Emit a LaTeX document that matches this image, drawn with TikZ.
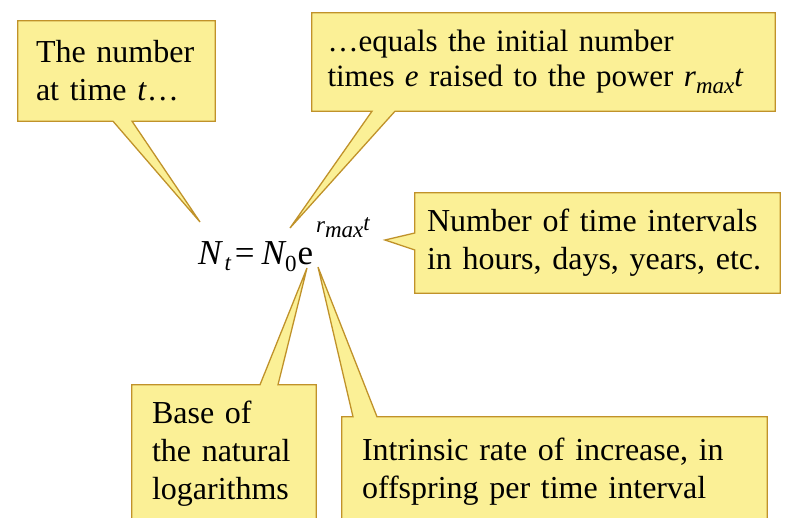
\documentclass[tikz,border=0pt]{standalone}
\usepackage{fontspec}
\setmainfont{Liberation Serif}
\usetikzlibrary{calc,backgrounds}

\definecolor{notefill}{RGB}{251,240,150}
\definecolor{noteedge}{RGB}{192,146,42}

\newcommand{\shifted}[2]{\raisebox{#1}{\fontsize{23}{23}\selectfont #2}}

\begin{document}
\begin{tikzpicture}[x=1pt, y=1pt,
    note/.style={rectangle, inner ysep=0pt, align=left, font=\fontsize{32}{38}\selectfont},
    formula/.style={anchor=base west, inner sep=0pt, font=\fontsize{35}{38}\selectfont},
    bubble/.style={draw=noteedge, fill=notefill, line width=1.3pt}
]
    \useasboundingbox (0,0) rectangle (786,518);

    % the equation and the points the callouts aim at
    \node[formula] (eqn) at (198,253) {{\itshape N}\kern3pt\shifted{-6pt}{\itshape t}\kern4pt=\kern7pt{\itshape N}\shifted{-7pt}{0}\kern1pt e\kern3pt\shifted{32pt}{\itshape r}\shifted{27pt}{\itshape max}\shifted{34pt}{\itshape t}};
    \coordinate (tipnow) at (200,296);
    \coordinate (tippower) at (290,290);
    \coordinate (tipunits) at (385,278);
    \coordinate (tipbase) at (307,250);
    \coordinate (tiprate) at (318,251);

    % callout texts
    \node[note, minimum height=100pt, text width=161pt, inner xsep=18pt] (now) at (116.5,447) {The number\\at time \textit{t}\ldots};
    \node[note, minimum height=98pt, text width=432pt, inner xsep=15.5pt, font=\fontsize{31}{35}\selectfont] (power) at (543.5,456) {\ldots equals the initial number\\times \textit{e} raised to the power \textit{r}\shifted{-7pt}{\itshape max}\textit{t}};
    \node[note, minimum height=100pt, text width=341pt, inner xsep=12pt] (units) at (597.5,275) {Number of time intervals\\in hours, days, years, etc.};
    \node[note, minimum height=138pt, text width=144pt, inner xsep=20pt] (base) at (224,64) {Base of\\the natural\\logarithms};
    \node[note, minimum height=109pt, text width=385pt, inner xsep=20pt] (rate) at (554.5,46.5) {Intrinsic rate of increase, in\\offspring per time interval};

    % callout outlines behind the text
    \begin{pgfonlayer}{background}
    \draw[bubble] (now.north west) -- (now.north east) -- (now.south east) -- (132,0 |- now.south) -- (tipnow) -- (113,0 |- now.south) -- (now.south west) -- cycle;
    \draw[bubble] (power.north west) -- (power.north east) -- (power.south east) -- (395,0 |- power.south) -- (tippower) -- (372,0 |- power.south) -- (power.south west) -- cycle;
    \draw[bubble] (units.north west) -- (units.north east) -- (units.south east) -- (units.south west) -- (units.west |- 0,268) -- (tipunits) -- (units.west |- 0,285) -- cycle;
    \draw[bubble] (base.south west) -- (base.north west) -- (260,0 |- base.north) -- (tipbase) -- (278,0 |- base.north) -- (base.north east) -- (base.south east) -- cycle;
    \draw[bubble] (rate.south west) -- (rate.north west) -- (353,0 |- rate.north) -- (tiprate) -- (377,0 |- rate.north) -- (rate.north east) -- (rate.south east) -- cycle;
    \end{pgfonlayer}
\end{tikzpicture}
\end{document}
